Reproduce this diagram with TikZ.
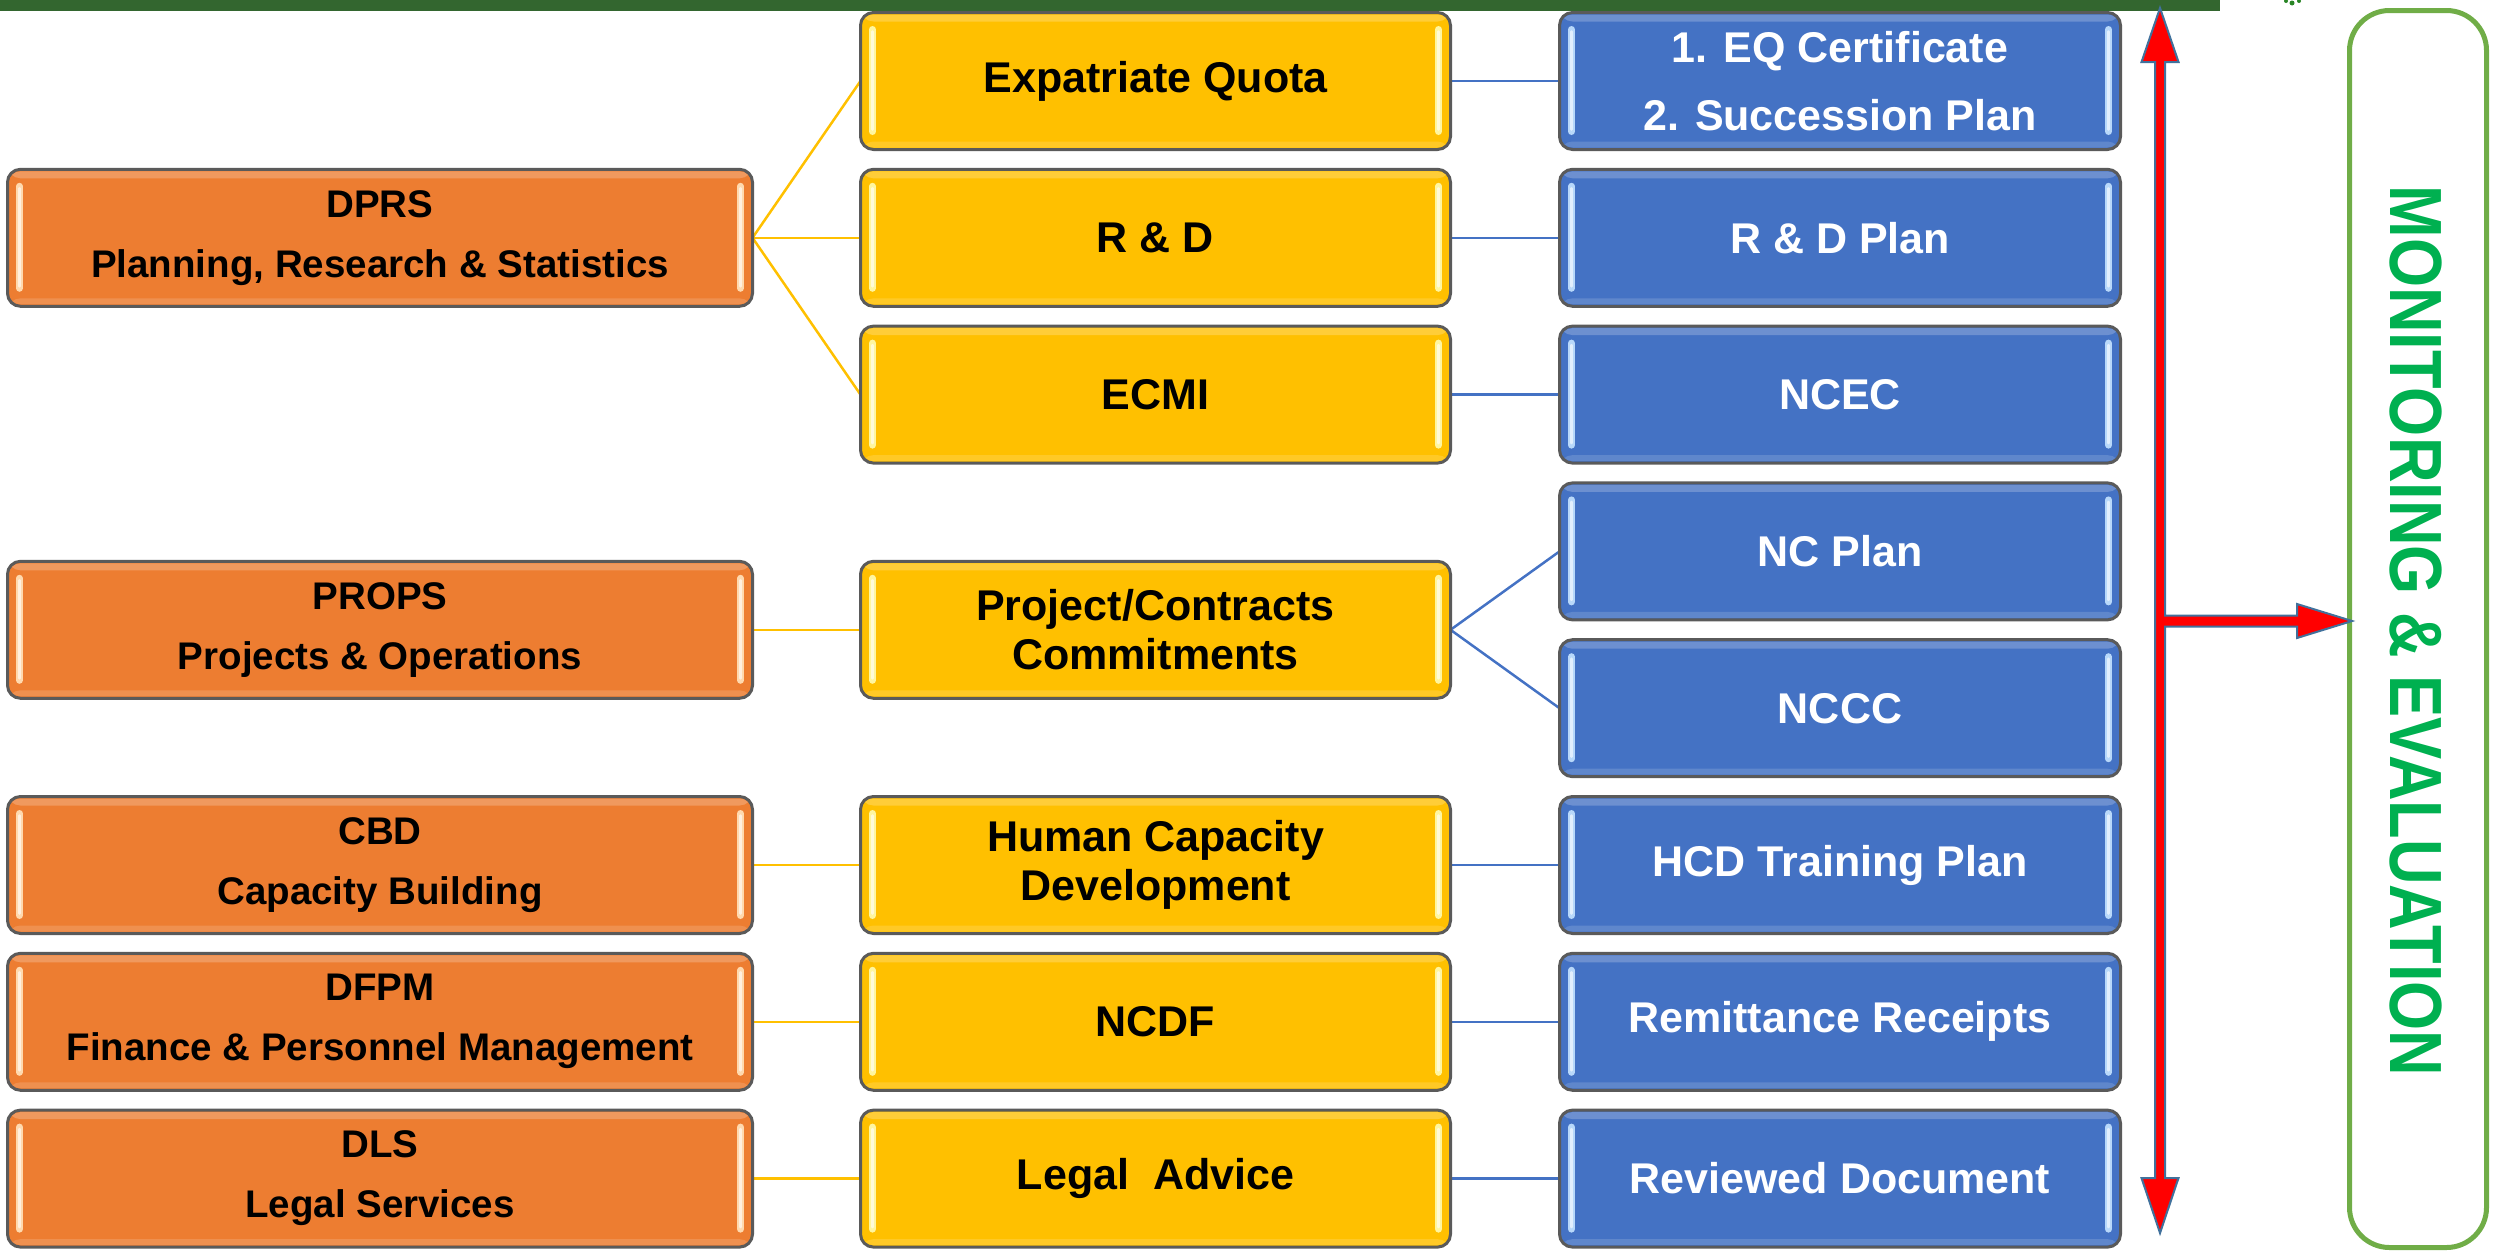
\documentclass[tikz,border=0pt]{standalone}
\usepackage{fontspec}
\setmainfont{Liberation Sans}
\usetikzlibrary{backgrounds}
\definecolor{orangeF}{HTML}{ED7D31}
\definecolor{orangeH}{HTML}{FFD9AE}
\definecolor{yellowF}{HTML}{FFC000}
\definecolor{yellowH}{HTML}{FFF6A0}
\definecolor{blueF}{HTML}{4472C4}
\definecolor{blueH}{HTML}{B8D8FA}
\definecolor{boxline}{HTML}{5A5A5A}
\definecolor{topbar}{HTML}{33662F}
\definecolor{frameG}{HTML}{70AD47}
\definecolor{textG}{HTML}{00B050}
\definecolor{arrowR}{HTML}{FF0000}
\definecolor{arrowO}{HTML}{41719C}
\tikzset{
  glossy/.style={path picture={
    \fill[white,opacity=0.22] ([yshift=-2pt]path picture bounding box.north west) rectangle ([yshift=-9pt]path picture bounding box.north east);
    \fill[white,opacity=0.15] ([yshift=2pt]path picture bounding box.south west) rectangle ([yshift=8pt]path picture bounding box.south east);
    \draw[#1,line width=7pt,line cap=round] ([xshift=12pt,yshift=-17pt]path picture bounding box.north west) -- ([xshift=12pt,yshift=18pt]path picture bounding box.south west);
    \draw[#1,line width=7pt,line cap=round] ([xshift=-12pt,yshift=-17pt]path picture bounding box.north east) -- ([xshift=-12pt,yshift=18pt]path picture bounding box.south east);
    \draw[white,opacity=0.6,line width=2.5pt,line cap=round] ([xshift=12pt,yshift=-19pt]path picture bounding box.north west) -- ([xshift=12pt,yshift=20pt]path picture bounding box.south west);
    \draw[white,opacity=0.6,line width=2.5pt,line cap=round] ([xshift=-12pt,yshift=-19pt]path picture bounding box.north east) -- ([xshift=-12pt,yshift=20pt]path picture bounding box.south east);
  }},
  boxbase/.style={rectangle, rounded corners=13pt, draw=boxline, line width=3pt,
    inner sep=0pt, outer sep=0pt, align=center, minimum height=137pt},
  orgbox/.style={boxbase, fill=orangeF, glossy=orangeH, minimum width=745pt,
    font=\bfseries\fontsize{38.5}{60}\selectfont},
  yelbox/.style={boxbase, fill=yellowF, glossy=yellowH, minimum width=590pt,
    font=\bfseries\fontsize{43}{49}\selectfont},
  blubox/.style={boxbase, fill=blueF, glossy=blueH, minimum width=561pt, text=white,
    font=\bfseries\fontsize{43}{49}\selectfont},
  ylink/.style={draw=yellowF, line width=2.5pt},
  blink/.style={draw=blueF, line width=2.5pt},
}
\begin{document}
\begin{tikzpicture}[x=1pt,y=-1pt]
\useasboundingbox (0,0) rectangle (2496,1253);
% top bar
\fill[topbar] (0,0) rectangle (2220,11);
\fill[topbar!80!green] (2286,1) circle (2pt) (2292,3) circle (2.5pt) (2299,1) circle (2pt);
% left column
\node[orgbox] (dprs)  at (380,237.8)  {DPRS\\Planning, Research \& Statistics};
\node[orgbox] (props) at (380,629.8)  {PROPS\\Projects \& Operations};
\node[orgbox] (cbd)   at (380,865)    {CBD\\Capacity Building};
\node[orgbox] (dfpm)  at (380,1021.8) {DFPM\\Finance \& Personnel Management};
\node[orgbox] (dls)   at (380,1178.6) {DLS\\Legal Services};
% middle column
\node[yelbox] (eq)    at (1155.5,81)     {Expatriate Quota};
\node[yelbox] (rd)    at (1155.5,237.8)  {R \& D};
\node[yelbox] (ecmi)  at (1155.5,394.6)  {ECMI};
\node[yelbox] (proj)  at (1155.5,629.8)  {Project/Contracts\\Commitments};
\node[yelbox] (hcd)   at (1155.5,865)    {Human Capacity\\Development};
\node[yelbox] (ncdf)  at (1155.5,1021.8) {NCDF};
\node[yelbox] (legal) at (1155.5,1178.6) {Legal\ \ Advice};
% right column
\node[blubox, font=\bfseries\fontsize{43}{68}\selectfont] (eqc) at (1840,81) {1. EQ Certificate\\2. Succession Plan};
\node[blubox] (rdp)    at (1840,237.8)  {R \& D Plan};
\node[blubox] (ncec)   at (1840,394.6)  {NCEC};
\node[blubox] (ncplan) at (1840,551.4)  {NC Plan};
\node[blubox] (nccc)   at (1840,708.2)  {NCCC};
\node[blubox] (hcdt)   at (1840,865)    {HCD Training Plan};
\node[blubox] (remit)  at (1840,1021.8) {Remittance Receipts};
\node[blubox] (rev)    at (1840,1178.6) {Reviewed Document};
% connectors
\begin{pgfonlayer}{background}
\draw[ylink] (dprs.east) -- (eq.west);
\draw[ylink] (dprs.east) -- (rd.west);
\draw[ylink] (dprs.east) -- (ecmi.west);
\draw[ylink] (props.east) -- (proj.west);
\draw[ylink] (cbd.east) -- (hcd.west);
\draw[ylink] (dfpm.east) -- (ncdf.west);
\draw[ylink] (dls.east) -- (legal.west);
\draw[blink] (eq.east) -- (eqc.west);
\draw[blink] (rd.east) -- (rdp.west);
\draw[blink] (ecmi.east) -- (ncec.west);
\draw[blink] (proj.east) -- (ncplan.west);
\draw[blink] (proj.east) -- (nccc.west);
\draw[blink] (hcd.east) -- (hcdt.west);
\draw[blink] (ncdf.east) -- (remit.west);
\draw[blink] (legal.east) -- (rev.west);
\end{pgfonlayer}
% monitoring frame
\node[draw=frameG, line width=5pt, rounded corners=40pt, minimum width=137pt, minimum height=1237pt, inner sep=0pt, outer sep=0pt] (me) at (2418,629) {};
\node[rotate=-90, text=textG, inner sep=0pt, font=\bfseries\fontsize{74}{74}\selectfont] (metext) at (2416,631) {\scalebox{0.853}[1]{MONITORING \& EVALUATION}};
% red arrow
\filldraw[fill=arrowR, draw=arrowO, line width=2pt, line join=miter]
  (2160,8) -- (2178.5,62) -- (2165,62) -- (2165,615.5) -- (2297,615.5) -- (2297,604)
  -- (2352,621) -- (2297,638) -- (2297,626.5) -- (2165,626.5) -- (2165,1178)
  -- (2178.5,1178) -- (2160,1233) -- (2141.5,1178) -- (2155,1178) -- (2155,62)
  -- (2141.5,62) -- cycle;
\end{tikzpicture}
\end{document}
